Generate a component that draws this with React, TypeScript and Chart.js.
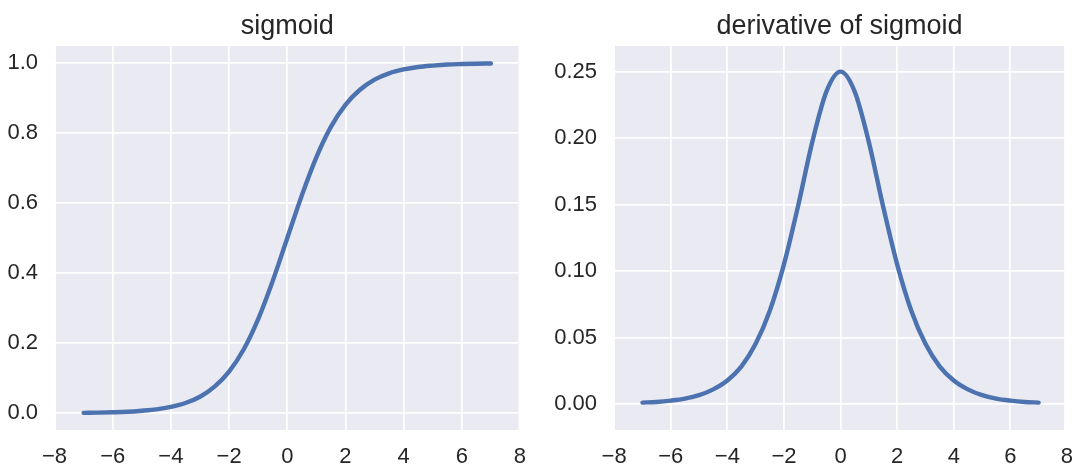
import React, { useEffect, useRef } from 'react';
import { Chart, registerables } from 'chart.js';

Chart.register(...registerables);

// ---- data ----
const xValues = [-7, -6.5, -6, -5.5, -5, -4.5, -4, -3.5, -3, -2.5, -2, -1.5, -1, -0.5, 0, 0.5, 1, 1.5, 2, 2.5, 3, 3.5, 4, 4.5, 5, 5.5, 6, 6.5, 7];
const sigmoidValues = [0.001, 0.0015, 0.0025, 0.004, 0.007, 0.011, 0.018, 0.029, 0.047, 0.076, 0.119, 0.182, 0.269, 0.378, 0.5, 0.622, 0.731, 0.818, 0.881, 0.924, 0.953, 0.971, 0.982, 0.989, 0.993, 0.996, 0.9975, 0.9985, 0.999];
const derivativeValues = [0.001, 0.0015, 0.0025, 0.004, 0.0066, 0.011, 0.0177, 0.0283, 0.0452, 0.0701, 0.105, 0.149, 0.197, 0.235, 0.25, 0.235, 0.197, 0.149, 0.105, 0.0701, 0.0452, 0.0283, 0.0177, 0.011, 0.0066, 0.004, 0.0025, 0.0015, 0.001];

const xTicks = [-8, -6, -4, -2, 0, 2, 4, 6, 8];
const xTickLabels = ['\u22128', '\u22126', '\u22124', '\u22122', '0', '2', '4', '6', '8'];
const sigmoidYTicks = [0, 0.2, 0.4, 0.6, 0.8, 1.0];
const sigmoidYTickLabels = ['0.0', '0.2', '0.4', '0.6', '0.8', '1.0'];
const derivYTicks = [0, 0.05, 0.1, 0.15, 0.2, 0.25];
const derivYTickLabels = ['0.00', '0.05', '0.10', '0.15', '0.20', '0.25'];
const panelTitles = ['sigmoid', 'derivative of sigmoid'];

const FONT = '"Liberation Sans", Arial, Helvetica, sans-serif';
const TEXT = '#262626';
const LINE = '#4c72b0';
const BG = '#eaeaf2';

type PanelProps = {
  title: string;
  values: number[];
  yTicks: number[];
  yLabels: string[];
  xMin: number;
  xMax: number;
  yMin: number;
  yMax: number;
  width: number;
  height: number;
  yAxisWidth: number;
  padRight: number;
};

const bgPlugin = {
  id: 'plotBg',
  beforeDraw(chart: any) {
    const { ctx, chartArea } = chart;
    if (!chartArea) return;
    ctx.save();
    ctx.fillStyle = BG;
    ctx.fillRect(chartArea.left, chartArea.top, chartArea.right - chartArea.left, chartArea.bottom - chartArea.top);
    ctx.restore();
  },
};

function Panel(p: PanelProps) {
  const ref = useRef<HTMLCanvasElement | null>(null);
  useEffect(() => {
    if (!ref.current) return;
    const chart = new Chart(ref.current, {
      type: 'line',
      data: {
        datasets: [
          {
            data: xValues.map((x, i) => ({ x, y: p.values[i] })),
            borderColor: LINE,
            borderWidth: 4.4,
            pointRadius: 0,
            fill: false,
            cubicInterpolationMode: 'monotone',
            borderCapStyle: 'round',
            borderJoinStyle: 'round',
          },
        ],
      },
      options: {
        responsive: false,
        animation: false,
        layout: { padding: { top: 0, left: 0, right: p.padRight, bottom: 0 } },
        plugins: {
          legend: { display: false },
          tooltip: { enabled: false },
          title: {
            display: true,
            fullSize: false,
            text: p.title,
            color: TEXT,
            font: { family: FONT, size: 27, weight: 'normal', lineHeight: 1.2 },
            padding: { top: 10, bottom: 3.6 },
          },
        },
        scales: {
          x: {
            type: 'linear',
            min: p.xMin,
            max: p.xMax,
            afterBuildTicks: (axis: any) => {
              axis.ticks = xTicks.map((v) => ({ value: v }));
            },
            afterFit: (axis: any) => {
              axis.height = 36;
            },
            ticks: {
              color: TEXT,
              font: { family: FONT, size: 22 },
              padding: 14,
              maxRotation: 0,
              autoSkip: false,
              callback: (v: any) => {
                const i = xTicks.indexOf(Number(v));
                return i >= 0 ? xTickLabels[i] : '';
              },
            },
            grid: {
              color: (ctx: any) => (ctx.tick && (ctx.tick.value < p.xMin || ctx.tick.value > p.xMax) ? 'rgba(0,0,0,0)' : '#ffffff'),
              lineWidth: 1.75,
              drawTicks: false,
            },
            border: { display: false },
          },
          y: {
            type: 'linear',
            min: p.yMin,
            max: p.yMax,
            afterBuildTicks: (axis: any) => {
              axis.ticks = p.yTicks.map((v) => ({ value: v }));
            },
            afterFit: (axis: any) => {
              axis.width = p.yAxisWidth;
            },
            ticks: {
              color: TEXT,
              font: { family: FONT, size: 22 },
              padding: 18,
              autoSkip: false,
              callback: (v: any) => {
                const n = Number(v);
                const i = p.yTicks.findIndex((t) => Math.abs(t - n) < 1e-9);
                return i >= 0 ? p.yLabels[i] : '';
              },
            },
            grid: { color: '#ffffff', lineWidth: 1.75, drawTicks: false },
            border: { display: false },
          },
        },
      },
      plugins: [bgPlugin],
    } as any);
    return () => chart.destroy();
  }, []);
  return <canvas ref={ref} width={p.width} height={p.height} style={{ display: 'block', width: p.width, height: p.height }} />;
}

export default function App() {
  return (
    <div style={{ position: 'absolute', left: 0, top: 0, width: 1087, height: 466, background: '#ffffff', display: 'flex' }}>
      <Panel
        title={panelTitles[0]}
        values={sigmoidValues}
        yTicks={sigmoidYTicks}
        yLabels={sigmoidYTickLabels}
        xMin={-7.95}
        xMax={7.95}
        yMin={-0.048}
        yMax={1.049}
        width={540}
        height={466}
        yAxisWidth={56}
        padRight={20}
      />
      <Panel
        title={panelTitles[1]}
        values={derivativeValues}
        yTicks={derivYTicks}
        yLabels={derivYTickLabels}
        xMin={-7.97}
        xMax={7.9}
        yMin={-0.0196}
        yMax={0.2693}
        width={547}
        height={466}
        yAxisWidth={75}
        padRight={10}
      />
    </div>
  );
}
